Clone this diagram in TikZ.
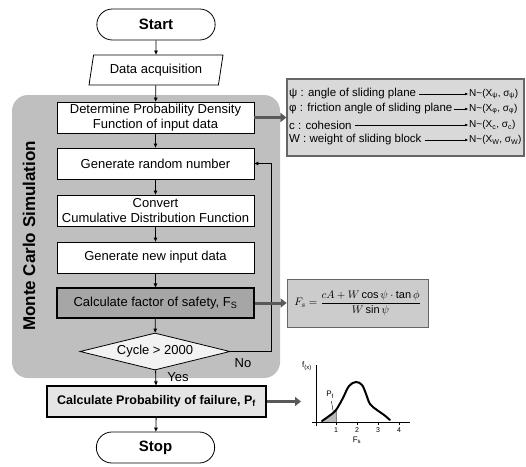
\documentclass[tikz,border=0pt]{standalone}
\usepackage{fontspec}
\setmainfont{Liberation Sans}
\usetikzlibrary{shapes.geometric,shapes.misc,arrows.meta}

\begin{document}
\begin{tikzpicture}[x=1pt,y=-1pt,
    every node/.style={font=\fontsize{13}{14.5}\selectfont},
    proc/.style={draw,thick,fill=white,minimum width=197pt,minimum height=31pt,inner sep=1pt,align=center},
    term/.style={draw,thick,rounded rectangle,minimum width=125pt,minimum height=31pt,font=\fontsize{15}{17}\selectfont\bfseries},
    flow/.style={-{Triangle[length=4pt,width=3.5pt]},thick},
    fat/.style={-{Triangle[length=6pt,width=9pt]},line width=3pt,black!65},
    varrow/.style={-{Triangle[length=3pt,width=2.5pt]},thin},
    vtxt/.style={anchor=west,inner sep=0pt,font=\fontsize{11.5}{12}\selectfont},
    ntxt/.style={anchor=west,inner sep=0pt,font=\fontsize{10}{12}\selectfont}]
    \useasboundingbox (0,0) rectangle (526,466);

    % monte carlo block
    \fill[gray!50,rounded corners=16pt] (12,95) rectangle (280,378);
    \node[rotate=90,font=\fontsize{17}{19}\selectfont\bfseries] (mcs) at (29,236) {Monte Carlo Simulation};

    % flow chart
    \node[term] (start) at (156,24.5) {Start};
    \node[draw,thick,fill=white,trapezium,trapezium left angle=72,trapezium right angle=108,
          trapezium stretches body,minimum width=134pt,minimum height=30pt,inner sep=1pt] (data) at (156,70) {Data acquisition};
    \node[proc] (pdf) at (155.5,117.5) {Determine Probability Density\\Function of input data};
    \node[proc] (rand) at (155.5,163.5) {Generate random number};
    \node[proc] (cdf) at (155.5,210.5) {Convert\\Cumulative Distribution Function};
    \node[proc] (newdata) at (155.5,257.5) {Generate new input data};
    \node[proc,fill=gray!70,line width=1.2pt,minimum height=30pt] (fos) at (155.5,303) {Calculate factor of safety, F\textsubscript{S}};
    \node[draw,thick,fill=gray!10,diamond,aspect=4,minimum width=150pt,minimum height=37pt,inner sep=0pt] (cycle) at (155,351.5) {Cycle > 2000};
    \node[draw,line width=1.2pt,fill=gray!20,minimum width=219pt,minimum height=31pt,inner sep=1pt,font=\fontsize{12.5}{14.5}\selectfont\bfseries] (pf) at (156.5,401.5) {Calculate Probability of failure, P\textsubscript{f}};
    \node[term] (stop) at (155.5,447.5) {Stop};

    \draw[flow] (start) -- (data);
    \draw[flow] (data) -- (pdf);
    \draw[flow] (pdf) -- (rand);
    \draw[flow] (rand) -- (cdf);
    \draw[flow] (cdf) -- (newdata);
    \draw[flow] (newdata) -- (fos);
    \draw[flow] (fos) -- (cycle);
    \draw[flow] (cycle) -- (pf);
    \draw[flow] (pf) -- (stop);
    \draw[flow] (cycle.east) -- ++(41,0) |- (rand.east);
    \node (no) at (243,363) {No};
    \node (yes) at (178,377) {Yes};

    % input variables
    \node[draw=gray!80!black,line width=1.2pt,fill=gray!30,minimum width=237pt,minimum height=77pt] (vars) at (405.5,117.5) {};
    \node[vtxt] (psi) at (289,94) {ψ : angle of sliding plane};
    \node[vtxt] (phi) at (289,109) {φ : friction angle of sliding plane};
    \node[vtxt] (coh) at (289,125) {c : cohesion};
    \node[vtxt] (wgt) at (289,140) {W : weight of sliding block};
    \node[ntxt] (npsi) at (469,94) {N\textasciitilde(X\textsubscript{ψ}, σ\textsubscript{ψ})};
    \node[ntxt] (nphi) at (469,109) {N\textasciitilde(X\textsubscript{φ}, σ\textsubscript{φ})};
    \node[ntxt] (ncoh) at (469,125) {N\textasciitilde(X\textsubscript{c}, σ\textsubscript{c})};
    \node[ntxt] (nwgt) at (469,140) {N\textasciitilde(X\textsubscript{W}, σ\textsubscript{W})};
    \draw[varrow] ([xshift=3pt]psi.east) -- ([xshift=-1pt]npsi.west);
    \draw[varrow] ([xshift=1pt]phi.east) -- ([xshift=-1pt]nphi.west);
    \draw[varrow] ([xshift=3pt]coh.east) -- ([xshift=-1pt]ncoh.west);
    \draw[varrow] ([xshift=3pt]wgt.east) -- ([xshift=-1pt]nwgt.west);

    % safety factor
    \node[draw=gray!80!black,thick,fill=gray!40,minimum width=141pt,minimum height=48pt,font=\fontsize{11}{13}\selectfont] (fsbox) at (357.5,303)
        {$\displaystyle F_s=\frac{cA+W\cos\psi\cdot\tan\phi}{W\sin\psi}$};

    \draw[fat] (pdf.east) -- (vars.west);
    \draw[fat] (fos.east) -- (fsbox.west);
    \coordinate (pdfplot) at (301,401.5);
    \draw[fat] (pf.east) -- (pdfplot);

    % distribution of Fs
    \begin{scope}[shift={(315,422)},x=21pt,y=1pt]
        \fill[gray!55] (0.33,1) -- (0.67,6) -- (1,12) -- (1,0) -- (0.33,0) -- cycle;
        \draw[gray] (1,0) -- (1,12);
        \draw (0.05,-4) -- (0.05,57);
        \draw (-0.15,0) -- (4.5,0);
        \foreach \t in {1,...,4} {
            \draw (\t,0) -- (\t,-3);
            \node[font=\fontsize{7}{8}\selectfont,inner sep=0pt] at (\t,-8) {\t};
        }
        \draw[line width=2pt,line cap=round] plot[smooth,tension=0.6] coordinates {(0.33,1) (0.67,6) (1,12) (1.33,24) (1.62,36) (1.95,40) (2.24,37) (2.43,28) (2.62,18) (2.95,12) (3.29,7) (3.57,2)};
        \node[font=\fontsize{8}{9}\selectfont,inner sep=0pt] (pflab) at (0.72,27) {P\textsubscript{f}};
        \draw (0.78,21) -- (0.88,9);
        \node[font=\fontsize{8}{9}\selectfont,inner sep=0pt] (fslab) at (2,-18) {F\textsubscript{s}};
        \node[font=\fontsize{8}{9}\selectfont,inner sep=0pt] (fxlab) at (-0.38,56) {f\textsubscript{(x)}};
    \end{scope}
\end{tikzpicture}
\end{document}
